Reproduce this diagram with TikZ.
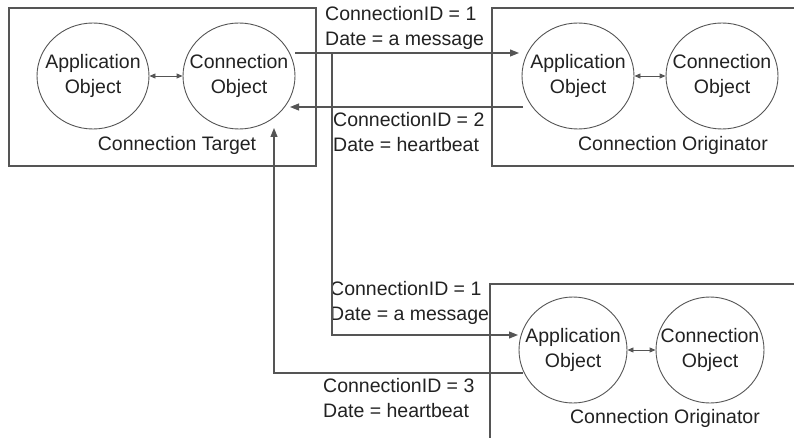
\documentclass[tikz,border=0pt]{standalone}
\usepackage{fontspec}
\setmainfont{Liberation Sans}
\usetikzlibrary{shapes.geometric,arrows.meta,calc}
\definecolor{ln}{HTML}{555555}
\definecolor{tx}{HTML}{222222}
\begin{document}
\begin{tikzpicture}[x=1pt,y=-1pt,
  box/.style={draw=ln,line width=1.3pt},
  obj/.style={ellipse,draw=ln,line width=0.9pt,minimum width=112pt,minimum height=106pt,inner sep=-15pt,align=center,text=tx,font=\fontsize{19.5}{25}\selectfont},
  txt/.style={text=tx,inner sep=0pt,font=\fontsize{19.5}{25}\selectfont},
  lbl/.style={txt,anchor=west,align=left},
  conn/.style={draw=ln,line width=1.1pt},
  tip/.style={-{Triangle[length=9pt,width=7pt]}},
  dbl/.style={{Triangle[length=6pt,width=5pt]}-{Triangle[length=6pt,width=5pt]}}
]
\useasboundingbox (0,0) rectangle (794,438);
\fill[white] (0,0) rectangle (794,438);

% boxes
\draw[box] (9,8) rectangle (316,166);
\draw[box] (800,8) -- (492,8) -- (492,166) -- (800,166);
\draw[box] (800,284) -- (490,284) -- (490,445);

% objects
\node[obj] (tapp) at (93,76) {Application\\Object};
\node[obj] (tcon) at (239,76) {Connection\\Object};
\node[obj] (oapp) at (578,76) {Application\\Object};
\node[obj] (ocon) at (722,76) {Connection\\Object};
\node[obj,minimum width=108pt] (papp) at (573,350) {Application\\Object};
\node[obj,minimum width=108pt] (pcon) at (710,350) {Connection\\Object};

% titles
\node[txt] (ttitle) at (177,145) {Connection Target};
\node[txt] (otitle) at (673,145) {Connection Originator};
\node[txt] (ptitle) at (665,418) {Connection Originator};

% message labels
\node[lbl] (m1) at (325,28) {ConnectionID = 1\\Date = a message};
\node[lbl] (m2) at (333,132) {ConnectionID = 2\\Date = heartbeat};
\node[lbl] (m3) at (330,303) {ConnectionID = 1\\Date = a message};
\node[lbl] (m4) at (323,398) {ConnectionID = 3\\Date = heartbeat};

% inner links
\draw[conn,line width=0.9pt,dbl] (tapp) -- (tcon);
\draw[conn,line width=0.9pt,dbl] (oapp) -- (ocon);
\draw[conn,line width=0.9pt,dbl] (papp) -- (pcon);

% messages
\coordinate (split) at (332,53);
\draw[conn,tip] ($(tcon.center)+(56,-23)$) -- ($(oapp.center)+(-59,-23)$);
\draw[conn,tip] (split) |- ($(papp.center)+(-55,-15)$);
\draw[conn,tip] ($(oapp.center)+(-55,31)$) -- ($(tcon.center)+(51,31)$);
\draw[conn,tip] ($(papp.center)+(-50,23)$) -| ($(tcon.center)+(35,52)$);
\end{tikzpicture}
\end{document}
